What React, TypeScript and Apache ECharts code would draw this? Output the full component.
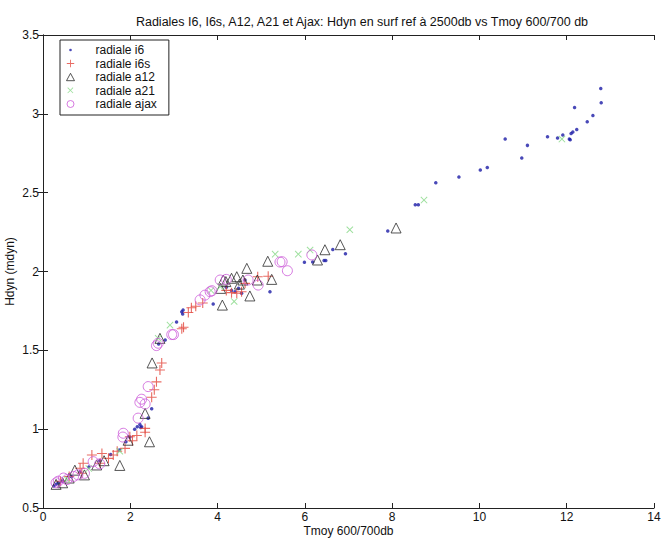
import React, { useEffect, useRef } from "react";
import * as echarts from "echarts";

// Tmoy 600/700db (x) vs Hdyn (y), one array per radiale
const radialeI6: [number, number][] = [
  [12.78, 3.16], [12.79, 3.07], [12.18, 3.04], [12.6, 2.99], [12.47, 2.95],
  [12.23, 2.9], [12.14, 2.885], [12.1, 2.875], [12.06, 2.84], [12.08, 2.835],
  [11.91, 2.866], [11.79, 2.847], [11.56, 2.855], [11.1, 2.8], [10.59, 2.84],
  [10.97, 2.72], [10.18, 2.66], [10.02, 2.644], [9.53, 2.6], [9.0, 2.563],
  [8.53, 2.424], [8.6, 2.424], [7.9, 2.257], [6.93, 2.113], [6.64, 2.14],
  [6.44, 2.07], [6.48, 2.07], [6.18, 2.06], [5.99, 2.058], [5.2, 1.872],
  [4.63, 1.946], [4.48, 1.893], [4.4, 1.872], [4.32, 1.88], [4.55, 1.862],
  [4.2, 1.9], [3.9, 1.794], [3.21, 1.756], [3.18, 1.745], [3.2, 1.73],
  [3.06, 1.68], [2.8, 1.565], [2.65, 1.54], [2.49, 1.13], [2.41, 1.07],
  [2.22, 1.03], [2.26, 1.016], [2.16, 1.016], [2.24, 1.01], [2.1, 1.0],
  [1.99, 0.95], [1.9, 0.92], [1.75, 0.868], [1.55, 0.84], [1.3, 0.8],
  [1.05, 0.76], [0.85, 0.73], [0.65, 0.7], [0.45, 0.67], [0.35, 0.66],
  [0.3, 0.65], [0.25, 0.64],
];

const radialeI6s: [number, number][] = [
  [5.16, 1.97], [4.92, 1.967], [4.63, 1.925], [4.32, 1.866], [4.44, 1.862],
  [4.55, 1.872], [4.2, 1.88], [3.66, 1.8], [3.5, 1.78], [3.4, 1.77],
  [3.33, 1.74], [3.22, 1.646], [3.18, 1.637], [2.72, 1.42], [2.68, 1.375],
  [2.6, 1.3], [2.55, 1.25], [2.49, 1.202], [2.34, 1.005], [2.34, 0.98],
  [2.15, 0.96], [2.05, 0.927], [1.99, 0.952], [1.88, 0.878], [1.7, 0.86],
  [1.61, 0.836], [1.5, 0.815], [1.35, 0.846], [1.12, 0.836], [1.31, 0.784],
  [0.92, 0.784], [0.85, 0.752], [0.89, 0.72], [0.6, 0.7], [0.4, 0.67],
];

const radialeA12: [number, number][] = [
  [8.09, 2.276], [6.81, 2.17], [6.46, 2.138], [6.29, 2.073], [5.15, 2.065],
  [5.24, 1.95], [4.67, 2.02], [4.44, 1.967], [4.32, 1.957], [4.19, 1.936],
  [4.13, 1.946], [4.58, 1.946], [4.5, 1.92], [4.07, 1.893], [4.74, 1.845],
  [4.11, 1.787], [4.91, 1.946], [2.68, 1.576], [2.5, 1.42], [2.34, 1.1],
  [2.44, 0.92], [1.76, 0.77], [1.23, 0.773], [0.73, 0.74], [0.45, 0.66],
  [0.3, 0.65], [0.6, 0.69], [0.95, 0.71], [1.4, 0.8], [1.95, 0.93],
];

const radialeA21: [number, number][] = [
  [11.89, 2.84], [8.73, 2.453], [7.03, 2.265], [6.12, 2.136], [5.85, 2.11],
  [5.32, 2.11], [4.38, 1.81], [4.06, 1.904], [3.85, 1.88], [2.91, 1.66],
  [2.64, 1.576], [1.76, 0.86], [1.05, 0.75], [0.55, 0.68],
];

const radialeAjax: [number, number][] = [
  [5.48, 2.062], [5.6, 2.005], [6.16, 2.105], [5.43, 2.06], [4.93, 1.914],
  [4.7, 1.946], [4.2, 1.95], [4.06, 1.946], [3.87, 1.878], [3.83, 1.872],
  [3.71, 1.85], [3.6, 1.82], [2.99, 1.6], [2.95, 1.6], [2.64, 1.545],
  [2.6, 1.53], [2.41, 1.27], [2.26, 1.19], [2.34, 1.16], [2.22, 1.17],
  [2.18, 1.07], [1.84, 0.974], [1.83, 0.95], [1.15, 0.794], [1.3, 0.78],
  [0.95, 0.72], [0.8, 0.71], [0.7, 0.7], [0.55, 0.68], [0.47, 0.69],
  [0.35, 0.67], [0.3, 0.66],
];

const seriesNames = ["radiale i6", "radiale i6s", "radiale a12", "radiale a21", "radiale ajax"];

const titleText = "Radiales I6, I6s, A12, A21 et Ajax: Hdyn en surf ref à 2500db vs Tmoy 600/700 db";
const xTitle = "Tmoy 600/700db";
const yTitle = "Hdyn (mdyn)";

// Marker shapes
const PLUS = "path://M4.45,0h1.1v4.45h4.45v1.1h-4.45v4.45h-1.1v-4.45h-4.45v-1.1h4.45z";

// Legend icons: a 25x9 box (the leading moveTos fix the box), glyph drawn in its left part
const BOX = "M0,0 M25,9 ";
const LEG_DOT = "path://" + BOX + "M6.3,4.5 A1.3,1.3 0 1,1 3.7,4.5 A1.3,1.3 0 1,1 6.3,4.5 Z";
const LEG_PLUS = "path://" + BOX + "M4.55,0.8h0.9v3.25h3.25v0.9h-3.25v3.25h-0.9v-3.25h-3.25v-0.9h3.25z";
const LEG_TRI = "path://" + BOX + "M5,0.8 L9,8.2 L1,8.2 Z";
const LEG_X = "path://" + BOX +
  "M2.45,1.35 L7.85,6.75 L7.3,7.3 L1.9,1.9 Z M1.9,6.75 L7.3,1.35 L7.85,1.9 L2.45,7.3 Z";
const LEG_CIRCLE = "path://" + BOX + "M8.5,4.5 A3.5,3.5 0 1,1 1.5,4.5 A3.5,3.5 0 1,1 8.5,4.5 Z";
const legendIcons = [LEG_DOT, LEG_PLUS, LEG_TRI, LEG_X, LEG_CIRCLE];
const outlined = [false, false, true, false, true];

const FONT = "Liberation Sans, Arial, Helvetica, sans-serif";
const AXIS_COLOR = "#222";
const TEXT_COLOR = "#111";

export default function App() {
  const ref = useRef<HTMLDivElement>(null);

  useEffect(() => {
    if (!ref.current) return;
    const chart = echarts.init(ref.current, undefined, { renderer: "svg" });

    const baseAxis = {
      axisLine: { show: true, lineStyle: { color: AXIS_COLOR, width: 1 } },
      axisTick: { show: true, inside: true, length: 5, lineStyle: { color: AXIS_COLOR } },
      splitLine: { show: false },
    };

    chart.setOption({
      animation: false,
      backgroundColor: "#fff",
      textStyle: { fontFamily: FONT },
      title: {
        text: titleText,
        left: 357,
        textAlign: "center",
        top: 10,
        textStyle: { fontSize: 12.5, fontWeight: "normal", color: TEXT_COLOR, fontFamily: FONT },
      },
      legend: {
        data: seriesNames.map((name, i) =>
          outlined[i]
            ? { name, icon: legendIcons[i], itemStyle: { borderWidth: 1 } }
            : { name, icon: legendIcons[i] }
        ),
        orient: "vertical",
        left: 60,
        top: 40,
        backgroundColor: "#fff",
        borderColor: AXIS_COLOR,
        borderWidth: 1,
        borderRadius: 0,
        padding: [4, 12, 5, 5],
        itemGap: 1.5,
        itemWidth: 25,
        itemHeight: 9,
        textStyle: { fontSize: 12, color: TEXT_COLOR, fontFamily: FONT },
      },
      grid: { left: 43, right: 17, top: 35, bottom: 33, show: false, outerBoundsMode: "none" },
      xAxis: [
        {
          ...baseAxis,
          type: "value",
          min: 0,
          max: 14,
          interval: 2,
          name: xTitle,
          nameLocation: "middle",
          nameGap: 17,
          nameMoveOverlap: false,
          nameTextStyle: { fontSize: 12, color: TEXT_COLOR },
          axisLabel: { fontSize: 12, color: TEXT_COLOR, margin: 3 },
        },
        {
          ...baseAxis,
          type: "value",
          position: "top",
          min: 0,
          max: 14,
          interval: 2,
          axisLabel: { show: false },
        },
      ],
      yAxis: [
        {
          ...baseAxis,
          type: "value",
          min: 0.5,
          max: 3.5,
          interval: 0.5,
          name: yTitle,
          nameLocation: "middle",
          nameGap: 27,
          nameMoveOverlap: false,
          nameTextStyle: { fontSize: 12, color: TEXT_COLOR },
          axisLabel: {
            fontSize: 12,
            color: TEXT_COLOR,
            margin: 4,
            formatter: (v: number) => String(v),
          },
        },
        {
          ...baseAxis,
          type: "value",
          position: "right",
          min: 0.5,
          max: 3.5,
          interval: 0.5,
          axisLabel: { show: false },
        },
      ],
      series: [
        {
          name: seriesNames[0],
          type: "scatter",
          data: radialeI6,
          symbol: "circle",
          symbolSize: 3.5,
          itemStyle: { color: "#1c1ca6" },
        },
        {
          name: seriesNames[1],
          type: "scatter",
          data: radialeI6s,
          symbol: PLUS,
          symbolSize: 10,
          itemStyle: { color: "#e2463c" },
        },
        {
          name: seriesNames[2],
          type: "scatter",
          data: radialeA12,
          symbol: "triangle",
          symbolSize: 10,
          itemStyle: { color: "rgba(0,0,0,0)", borderColor: "#2a2a2a", borderWidth: 1 },
        },
        {
          name: seriesNames[3],
          type: "scatter",
          data: radialeA21,
          symbol: PLUS,
          symbolRotate: 45,
          symbolSize: 9,
          itemStyle: { color: "#86d886" },
        },
        {
          name: seriesNames[4],
          type: "scatter",
          data: radialeAjax,
          symbol: "circle",
          symbolSize: 10,
          itemStyle: { color: "rgba(0,0,0,0)", borderColor: "#cc5ad8", borderWidth: 1 },
        },
      ],
    });

    return () => chart.dispose();
  }, []);

  return <div ref={ref} style={{ width: 671, height: 541, position: "absolute", left: 0, top: 0 }} />;
}
